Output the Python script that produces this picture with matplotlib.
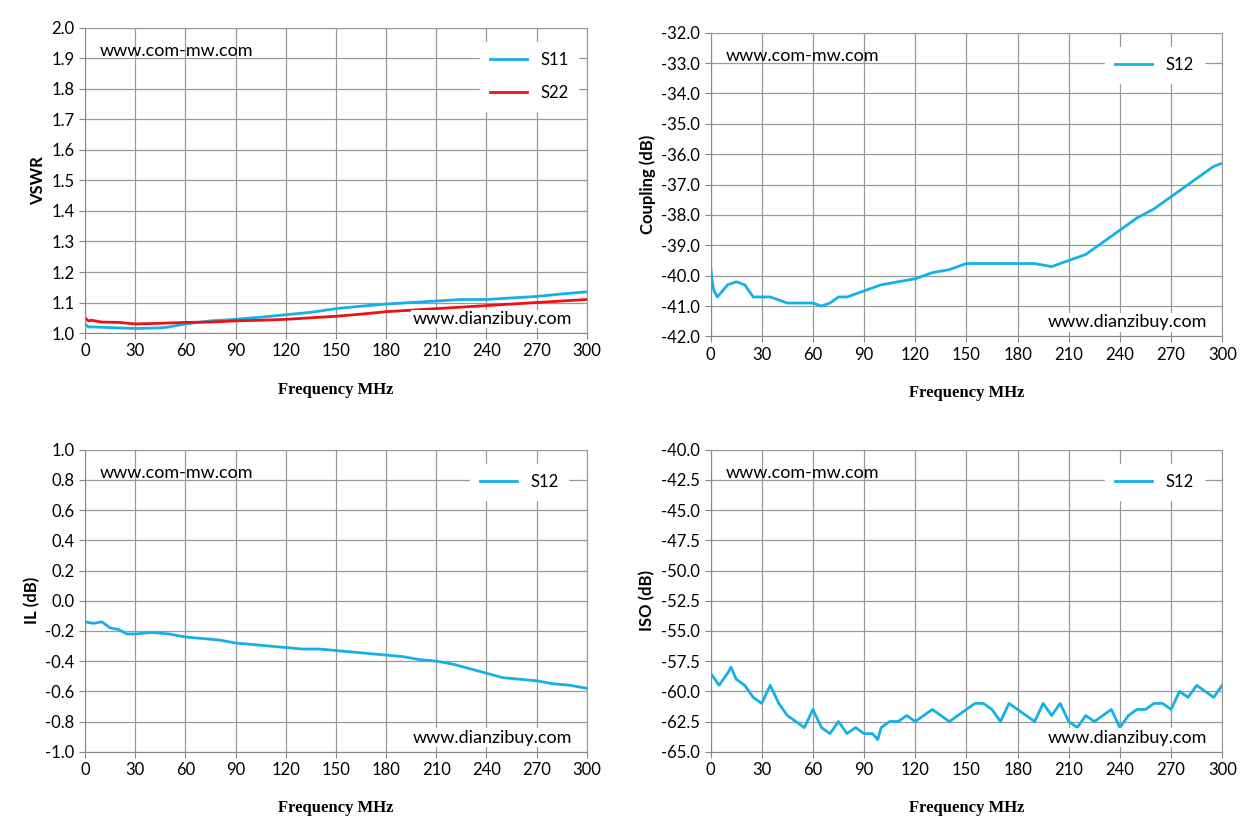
import matplotlib
matplotlib.use("Agg")
import matplotlib.pyplot as plt
import numpy as np

s11_f = [0,2,5,15,30,45,50,60,75,90,105,120,135,150,165,180,195,210,225,240,255,270,285,300]
s11_v = [1.03,1.02,1.02,1.018,1.015,1.017,1.02,1.03,1.04,1.045,1.052,1.06,1.068,1.08,1.088,1.095,1.10,1.105,1.11,1.11,1.115,1.12,1.128,1.135]
s22_f = [0,2,4,10,20,30,45,60,75,90,105,120,135,150,165,180,195,210,225,240,255,270,285,300]
s22_v = [1.05,1.04,1.042,1.036,1.035,1.03,1.032,1.035,1.036,1.04,1.042,1.045,1.05,1.055,1.062,1.07,1.075,1.08,1.085,1.09,1.095,1.10,1.105,1.11]

cp_f = [0,1,2,4,7,10,15,20,25,30,35,40,45,50,55,60,65,70,75,80,85,90,100,110,120,130,140,150,160,170,180,190,200,210,220,230,240,250,260,270,280,290,295,300]
cp_v = [-39.7,-40.2,-40.5,-40.7,-40.5,-40.3,-40.2,-40.3,-40.7,-40.7,-40.7,-40.8,-40.9,-40.9,-40.9,-40.9,-41.0,-40.9,-40.7,-40.7,-40.6,-40.5,-40.3,-40.2,-40.1,-39.9,-39.8,-39.6,-39.6,-39.6,-39.6,-39.6,-39.7,-39.5,-39.3,-38.9,-38.5,-38.1,-37.8,-37.4,-37.0,-36.6,-36.4,-36.3]

il_f = [0,5,10,15,20,25,30,40,50,60,70,80,90,100,110,120,130,140,150,160,170,180,190,200,210,220,230,240,250,260,270,280,290,300]
il_v = [-0.14,-0.15,-0.14,-0.18,-0.19,-0.22,-0.22,-0.21,-0.22,-0.24,-0.25,-0.26,-0.28,-0.29,-0.30,-0.31,-0.32,-0.32,-0.33,-0.34,-0.35,-0.36,-0.37,-0.39,-0.40,-0.42,-0.45,-0.48,-0.51,-0.52,-0.53,-0.55,-0.56,-0.58]

iso_f = [0,5,10,12,15,20,25,30,35,40,45,50,55,60,65,70,75,80,85,90,95,98,100,105,110,115,120,125,130,135,140,145,150,155,160,165,170,175,180,185,190,195,200,205,210,215,220,225,230,235,240,245,250,255,260,265,270,275,280,285,290,295,300]
iso_v = [-58.5,-59.5,-58.5,-58,-59,-59.5,-60.5,-61,-59.5,-61,-62,-62.5,-63,-61.5,-63,-63.5,-62.5,-63.5,-63,-63.5,-63.5,-64,-63,-62.5,-62.5,-62,-62.5,-62,-61.5,-62,-62.5,-62,-61.5,-61,-61,-61.5,-62.5,-61,-61.5,-62,-62.5,-61,-62,-61,-62.5,-63,-62,-62.5,-62,-61.5,-63,-62,-61.5,-61.5,-61,-61,-61.5,-60,-60.5,-59.5,-60,-60.5,-59.5]

BLUE = "#16b0e8"
RED = "#ee1111"
plt.rcParams['font.family'] = ['Lato', 'DejaVu Sans']

fig = plt.figure(figsize=(12.51, 8.39), dpi=100)

def fmt(y):
    s = "{:.1f}".format(y)
    return "0.0" if s == "-0.0" else s

def setup(rect, ylim, ystep, ylabel, series, legpos):
    ax = fig.add_axes(rect)
    for f, v, c, lab in series:
        ax.plot(f, v, color=c, lw=2, label=lab)
    ax.set_xlim(0, 300)
    ax.set_ylim(*ylim)
    ax.set_xticks(range(0, 301, 30))
    yt = np.arange(ylim[0], ylim[1] + ystep / 2, ystep)
    ax.set_yticks(yt)
    ax.set_yticklabels([fmt(y) for y in yt])
    ax.grid(True, color="#999999", lw=0.9)
    ax.set_axisbelow(True)
    for s in ax.spines.values():
        s.set_color("#999999")
    ax.spines['left'].set_color("#888888")
    ax.spines['bottom'].set_color("#888888")
    ax.tick_params(labelsize=12, length=4, color="#888888")
    ax.set_ylabel(ylabel, fontsize=12, fontweight='bold')
    ax.set_xlabel("Frequency MHz", fontsize=12, fontweight='bold', family='Liberation Serif', labelpad=16)
    ax.legend(loc='upper right', bbox_to_anchor=legpos, frameon=True, fontsize=12,
              handlelength=2.2, fancybox=False, edgecolor='white', framealpha=1, borderpad=0.6, labelspacing=1.0)
    ax.text(0.03, 0.95, "www.com-mw.com", transform=ax.transAxes, fontsize=13, va='top')
    ax.text(0.97, 0.02, "www.dianzibuy.com", transform=ax.transAxes, fontsize=13, ha='right', va='bottom',
            bbox=dict(facecolor='white', edgecolor='none', pad=1))
    return ax

setup([0.068, 0.603, 0.401, 0.364], (1.0, 2.0), 0.1, "VSWR",
      [(s11_f, s11_v, BLUE, "S11"), (s22_f, s22_v, RED, "S22")], (1.0, 0.98))
setup([0.568, 0.599, 0.409, 0.362], (-42.0, -32.0), 1.0, "Coupling (dB)",
      [(cp_f, cp_v, BLUE, "S12")], (0.98, 0.98))
setup([0.068, 0.104, 0.401, 0.36], (-1.0, 1.0), 0.2, "IL (dB)",
      [(il_f, il_v, BLUE, "S12")], (0.98, 0.98))
setup([0.568, 0.104, 0.409, 0.36], (-65.0, -40.0), 2.5, "ISO (dB)",
      [(iso_f, iso_v, BLUE, "S12")], (0.98, 0.98))

fig.savefig("out.png", dpi=100)
